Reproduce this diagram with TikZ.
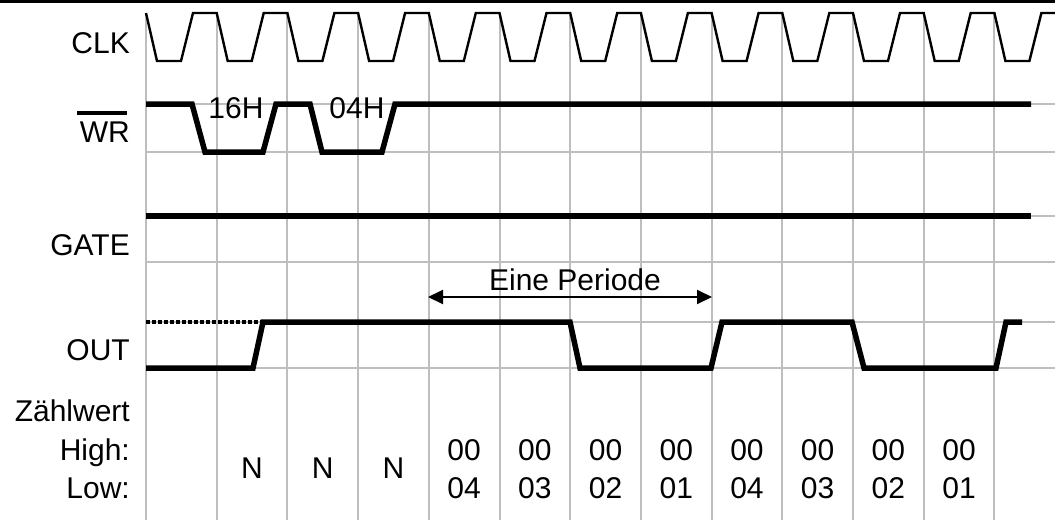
\documentclass[tikz,border=0pt]{standalone}
\usepackage{fontspec}
\setmainfont{Liberation Sans}
\usetikzlibrary{arrows.meta}
\definecolor{gridgray}{RGB}{190,190,190}
\begin{document}
\begin{tikzpicture}[x=1pt,y=-1pt,
  grid/.style={draw=gridgray,line width=2pt},
  clkline/.style={line width=2.4pt,line join=miter},
  sig/.style={line width=5.5pt,line join=miter},
  lbl/.style={inner sep=0pt,anchor=base east,font=\fontsize{30}{36}\selectfont},
  val/.style={inner sep=0pt,anchor=base,font=\fontsize{30}{36}\selectfont},
  dblarrow/.style={{Triangle[length=15pt,width=14pt]}-{Triangle[length=15pt,width=14pt]},line width=2pt}
]
\useasboundingbox (0,0) rectangle (1055,520);
\fill (0,0) rectangle (1055,3.3);
% grid
\foreach \i in {0,...,12} \draw[grid] ({146+70.7*\i},13) -- ({146+70.7*\i},520);
\foreach \y in {104,152,216,262,322,368} \draw[grid] (146,\y) -- (1055,\y);
% CLK
\draw[clkline] (146,13) \foreach \i in {0,...,11} { -- ({146+70.7*\i+11},61) -- ({146+70.7*\i+35},61) -- ({146+70.7*\i+47},13) -- ({146+70.7*(\i+1)},13) } -- (1005.4,61) -- (1029.4,61) -- (1041.4,13) -- (1055,13);
% WR
\draw[sig] (146,104) -- (192,104) -- (205,152) -- (263,152) -- (276,104) -- (310,104) -- (322,152) -- (382,152) -- (395,104) -- (1031,104);
% GATE
\draw[sig] (146,216) -- (1031,216);
% OUT
\draw[line width=4pt,dash pattern=on 4pt off 2pt] (146,322) -- (262,322);
\draw[sig] (146,368) -- (253,368) -- (263,322) -- (570,322) -- (580,368) -- (711,368) -- (722,322) -- (852,322) -- (864,368) -- (996,368) -- (1006,322) -- (1022,322);
% labels
\node[lbl] (clk) at (130,53) {CLK};
\node[lbl] (wr) at (130,142) {WR};
\draw[line width=4pt] (77,113) -- (127,113);
\node[lbl] (gate) at (130,255) {GATE};
\node[lbl] (out) at (130,360) {OUT};
\node[lbl] (zw) at (130,421) {Zählwert};
\node[lbl] (high) at (130,460) {High:};
\node[lbl] (low) at (130,498) {Low:};
\node[val] (h16) at (236,118) {16H};
\node[val] (h04) at (357,118) {04H};
\foreach \i/\n in {1/a,2/b,3/c} \node[val] (n\n) at ({146+70.7*(\i+0.5)},478) {N};
\foreach \i/\v in {4/4,5/3,6/2,7/1,8/4,9/3,10/2,11/1} {
  \node[val] (hi\i) at ({146+70.7*(\i+0.5)},460) {00};
  \node[val] (lo\i) at ({146+70.7*(\i+0.5)},498) {0\v};
}
% period arrow
\coordinate (pa) at (428,297);
\coordinate (pb) at (712,297);
\draw[dblarrow] (pa) -- (pb);
\node[val] (ep) at (575,290) {Eine Periode};
\end{tikzpicture}
\end{document}
